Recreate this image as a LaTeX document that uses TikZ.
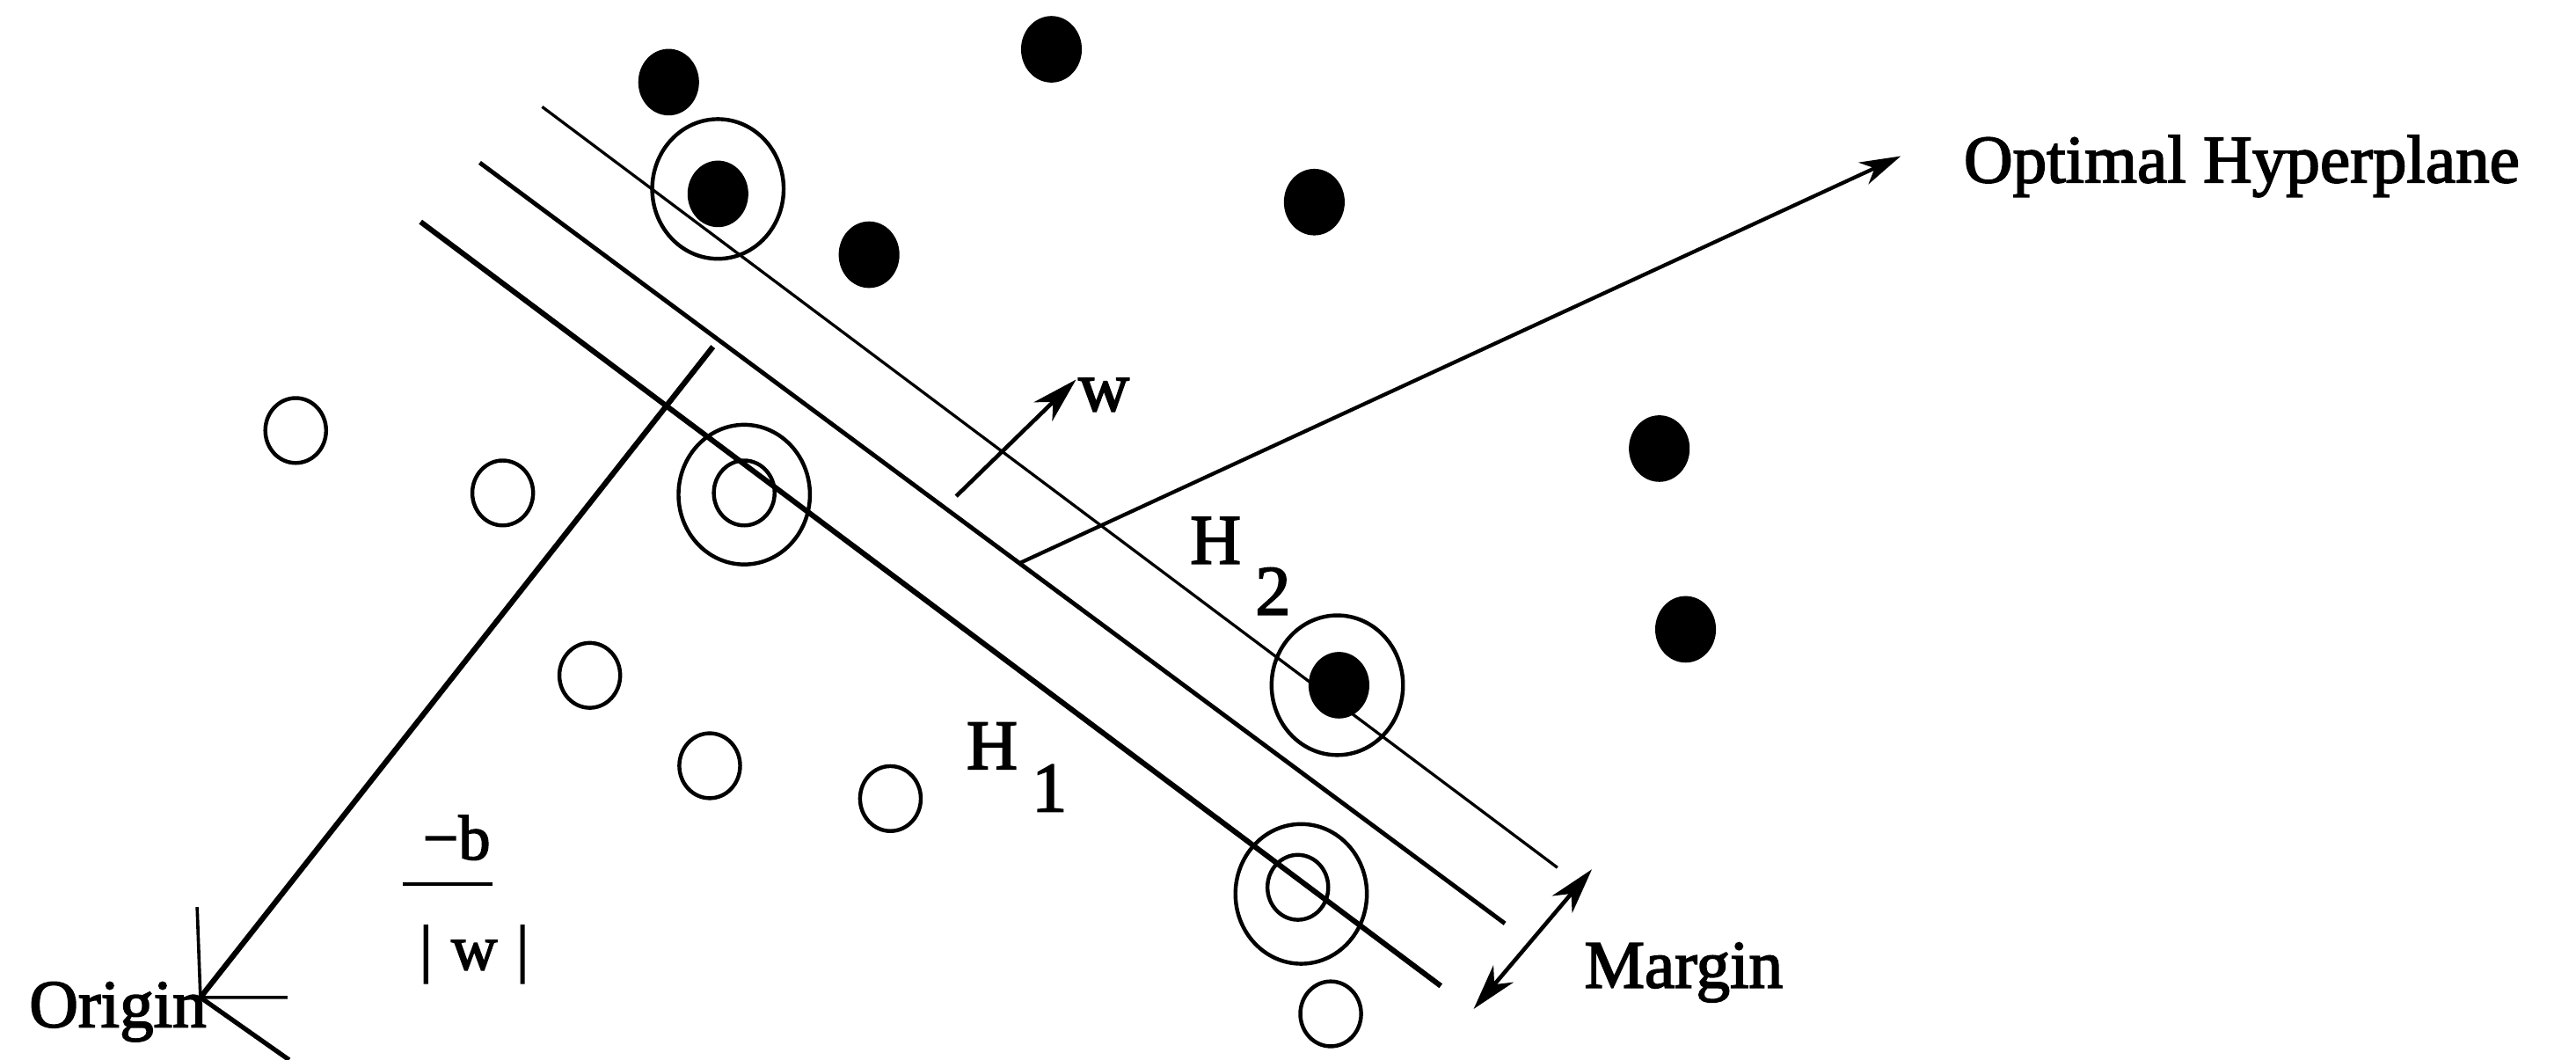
\documentclass[tikz,border=0pt]{standalone}
\usepackage{fontspec}
\setmainfont{Liberation Serif}
\newfontfamily\scanfont{Liberation Serif}[FakeBold=2.2]
\usetikzlibrary{arrows.meta,shapes.geometric}
\begin{document}
\begin{tikzpicture}[x=0.2mm,y=-0.2mm,
  fdot/.style={ellipse, fill=black, inner sep=0pt, minimum width=7.4mm, minimum height=8.1mm},
  odot/.style={ellipse, draw=black, line width=1.35pt, inner sep=0pt, minimum width=7.4mm, minimum height=7.9mm},
  ringc/.style={ellipse, draw=black, line width=1.35pt, inner sep=0pt, minimum width=16mm, minimum height=17mm},
  lbl/.style={font=\scanfont\fontsize{23.5}{26}\selectfont, inner sep=0pt},
  hl/.style={font=\scanfont\fontsize{24.5}{27}\selectfont, inner sep=0pt},
  fr/.style={font=\scanfont\fontsize{22}{24}\selectfont, inner sep=0pt},
  tipA/.tip={Stealth[length=5.6mm,width=3.2mm,inset=1.7mm]},
  arr/.style={-tipA},
  darr/.style={tipA-tipA}]
\useasboundingbox (0,0) rectangle (1568,645);
% filled points
\node[fdot] (f1) at (407,50) {};
\node[fdot] (f2) at (640,30) {};
\node[fdot] (f3) at (437,118) {};
\node[fdot] (f4) at (529,155) {};
\node[fdot] (f5) at (800,123) {};
\node[fdot] (f6) at (1010,273) {};
\node[fdot] (f7) at (1026,383) {};
\node[fdot] (f8) at (815,417) {};
% hollow points
\node[odot] (o1) at (180,262) {};
\node[odot] (o2) at (306,300) {};
\node[odot] (o3) at (453,300) {};
\node[odot] (o4) at (359,411) {};
\node[odot] (o5) at (432,466) {};
\node[odot] (o6) at (542,486) {};
\node[odot] (o7) at (790,540) {};
\node[odot] (o8) at (810,617) {};
% support vector rings
\node[ringc] (r1) at (437,115) {};
\node[ringc] (r2) at (453,301) {};
\node[ringc] (r3) at (814,417) {};
\node[ringc] (r4) at (792,544) {};
% hyperplanes
\coordinate (h2a) at (330,65);  \coordinate (h2b) at (948,528);
\coordinate (ma) at (292,99);   \coordinate (mb) at (916,562);
\coordinate (h1a) at (256,135); \coordinate (h1b) at (877,600);
\draw[line width=1pt] (h2a) -- (h2b);
\draw[line width=1.5pt] (ma) -- (mb);
\draw[line width=1.85pt] (h1a) -- (h1b);
% w vector
\coordinate (w0) at (582,302);
\coordinate (w1) at (655,231);
\draw[arr, line width=1.4pt] (w0) -- (w1);
\node[hl, anchor=base west] (wl) at (656,250) {w};
% optimal hyperplane pointer
\coordinate (p0) at (620,343);
\coordinate (p1) at (1157,95);
\node[lbl, anchor=base west] (opt) at (1195,111) {Optimal Hyperplane};
\draw[-{Stealth[length=5mm,width=2.9mm,inset=1.5mm]}, line width=1.3pt] (p0) -- (p1);
% labels H1 H2
\node[hl, anchor=base west] (H2) at (724,343) {H\kern0.2em\raisebox{-0.72em}{2}};
\node[hl, anchor=base west] (H1) at (588,468) {H\kern0.2em\raisebox{-0.6em}{1}};
% margin
\coordinate (m0) at (897,614);
\coordinate (m1) at (969,529);
\draw[darr, line width=1.4pt] (m0) -- (m1);
\node[lbl, anchor=base west] (margin) at (964,601) {Margin};
% origin
\coordinate (org) at (122,607);
\coordinate (ob) at (434,211);
\coordinate (ov) at (120,552);
\coordinate (oh) at (175,607);
\coordinate (od) at (176,645);
\draw[line width=1.9pt] (ob) -- (org);
\draw[line width=1.1pt] (ov) -- (org) -- (oh);
\draw[line width=1.6pt] (org) -- (od);
\node[lbl, anchor=base east] (origin) at (126,625) {Origin};
% -b / |w|
\node[fr, anchor=base west] (nb) at (257,523) {−b};
\coordinate (fb0) at (245,538);
\coordinate (fb1) at (300,538);
\draw[line width=1.1pt] (fb0) -- (fb1);
\node[fr, anchor=base west] (nw) at (255,590) {|\hspace{0.3em}w\hspace{0.3em}|};
\end{tikzpicture}
\end{document}
